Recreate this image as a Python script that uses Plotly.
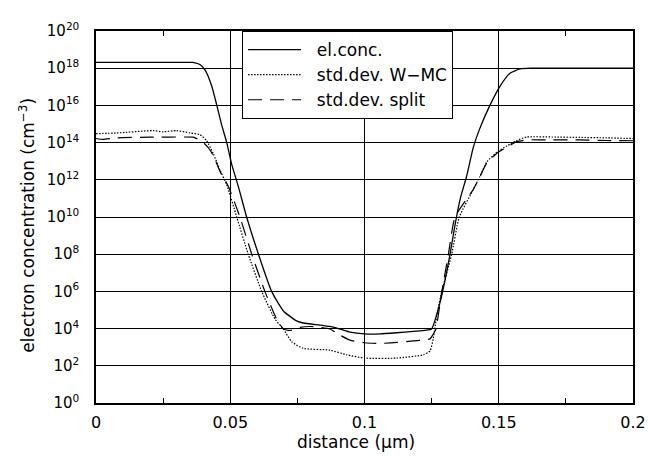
import plotly.graph_objects as go

# ---- data ----
conc_x = [0, 0.02, 0.036, 0.0369, 0.0387, 0.0406, 0.0431, 0.045, 0.0468, 0.0487, 0.0505, 0.053,
          0.0561, 0.0605, 0.0654, 0.0698, 0.0747, 0.0772, 0.0834, 0.0871, 0.0909, 0.0946, 0.1,
          0.1058, 0.112, 0.1182, 0.1244, 0.125, 0.1281, 0.13, 0.1318, 0.1337, 0.1356, 0.138,
          0.1405, 0.143, 0.1467, 0.1505, 0.1542, 0.1579, 0.162, 0.18, 0.2]
conc_y = [2.04e18, 2.04e18, 2.04e18, 1.95e18, 1.58e18, 8.1e17, 1.1e17, 1e16, 8.9e14, 1e14, 7.2e12, 4.4e11,
          1e10, 1e8, 1e6, 8.9e4, 2.6e4, 2.0e4, 1.55e4, 1.3e4, 9.5e3, 6.5e3, 5.2e3,
          5.2e3, 6.0e3, 7.1e3, 8.9e3, 9.5e3, 2.4e5, 4.0e6, 8.9e7, 3.6e9, 8.9e10, 1.5e12,
          5.4e13, 6.0e14, 1e16, 1.1e17, 5.4e17, 9.1e17, 1e18, 1e18, 1e18]

wmc_x = [0, 0.0077, 0.0213, 0.025, 0.030, 0.035, 0.0387, 0.0412, 0.0437, 0.0462, 0.0487, 0.0524,
         0.0567, 0.0617, 0.0667, 0.0698, 0.0729, 0.0772, 0.0871, 0.0934, 0.1, 0.112, 0.1219,
         0.1244, 0.1256, 0.1269, 0.1287, 0.1324, 0.1353, 0.1405, 0.143, 0.1455, 0.1492, 0.153,
         0.1567, 0.1604, 0.17, 0.18, 0.19, 0.2]
wmc_y = [3.0e14, 3.3e14, 4.4e14, 3.8e14, 4.4e14, 3.3e14, 2.7e14, 1.26e14, 2.5e13, 3.3e12, 5.4e11, 1e10,
         1e8, 1e6, 3.2e4, 9.5e3, 1.95e3, 870, 690, 390, 260, 260, 390,
         630, 2.9e3, 4.8e4, 8.9e5, 8.9e7, 1e10, 3.0e11, 1.5e12, 8.9e12, 3.0e13, 6.6e13,
         1.3e14, 2.0e14, 2.0e14, 1.9e14, 1.8e14, 1.66e14]

split_x = [0, 0.0025, 0.0077, 0.02, 0.0362, 0.0369, 0.0394, 0.0418, 0.0437, 0.0462, 0.0493, 0.0536,
           0.058, 0.0629, 0.0673, 0.0698, 0.0722, 0.076, 0.0797, 0.0834, 0.0871, 0.0909, 0.0946,
           0.1, 0.1058, 0.112, 0.1182, 0.1244, 0.1256, 0.1266, 0.1287, 0.1312, 0.1337, 0.1405,
           0.143, 0.1455, 0.1492, 0.153, 0.1567, 0.1604, 0.17, 0.18, 0.19, 0.2]
split_y = [1.66e14, 1.48e14, 1.8e14, 1.95e14, 1.95e14, 1.8e14, 1.2e14, 5.4e13, 2.0e13, 2.8e12, 4.4e11, 1e10,
           1e8, 1e6, 3.2e4, 9.5e3, 7.9e3, 1.17e4, 1.3e4, 1.17e4, 9.5e3, 4.4e3, 2.4e3,
           1.74e3, 1.6e3, 1.8e3, 2.2e3, 2.8e3, 5.0e3, 9.5e3, 7.9e5, 8.9e7, 1e10, 3.0e11,
           1.5e12, 7.9e12, 2.6e13, 5.6e13, 1.12e14, 1.4e14, 1.4e14, 1.4e14, 1.3e14, 1.26e14]

names = ["el.conc.", "std.dev. W\u2212MC", "std.dev. split"]
y_exps = list(range(0, 21, 2))
y_tickvals = [10.0 ** e for e in y_exps]
y_ticktext = ["10<sup>%d</sup>" % e for e in y_exps]
x_tickvals = [0, 0.05, 0.1, 0.15, 0.2]
x_ticktext = ["0", "0.05", "0.1", "0.15", "0.2"]
x_minor = [0.025, 0.075, 0.125, 0.175]
x_title = "distance (\u03bcm)"
y_title = "electron concentration (cm<sup>\u22123</sup>)"

FONT = "DejaVu Sans"
PAD = "\u00a0\u00a0"

fig = go.Figure()
fig.add_trace(go.Scatter(x=conc_x, y=conc_y, name=PAD + names[0], mode="lines",
                         line=dict(color="black", width=1.3, shape="spline", smoothing=0.5)))
fig.add_trace(go.Scatter(x=wmc_x, y=wmc_y, name=PAD + names[1], mode="lines",
                         line=dict(color="black", width=1.2, dash="1.5px,1.5px", shape="spline", smoothing=0.5)))
fig.add_trace(go.Scatter(x=split_x, y=split_y, name=PAD + names[2], mode="lines",
                         line=dict(color="black", width=1.2, dash="14px,8px", shape="spline", smoothing=0.5)))

# page body has an 8px margin: figure sized so it ends exactly at the window edge
fig.update_layout(
    width=653, height=448,
    margin=dict(l=88, r=28, t=12, b=53),
    paper_bgcolor="white", plot_bgcolor="white",
    font=dict(family=FONT, size=16, color="black"),
    showlegend=True,
    legend=dict(x=0.272, y=1.0, xanchor="left", yanchor="top",
                bgcolor="white", bordercolor="black", borderwidth=1,
                font=dict(family=FONT, size=17), itemwidth=53,
                tracegroupgap=0),
    xaxis=dict(range=[0, 0.2], tickvals=x_tickvals, ticktext=x_ticktext,
               showgrid=True, gridcolor="black", gridwidth=1,
               showline=True, linecolor="black", linewidth=1.5, mirror="allticks",
               ticks="inside", ticklen=5, tickcolor="black",
               minor=dict(tickvals=x_minor, ticks="inside", ticklen=5,
                          tickcolor="black", showgrid=False),
               zeroline=False, ticklabelstandoff=4,
               tickfont=dict(size=16)),
    yaxis=dict(type="log", range=[0, 20], tickvals=y_tickvals, ticktext=y_ticktext,
               showgrid=True, gridcolor="black", gridwidth=1,
               showline=True, linecolor="black", linewidth=1.5, mirror="allticks",
               ticks="inside", ticklen=6, tickcolor="black", zeroline=False,
               ticklabelstandoff=12,
               tickfont=dict(size=15)),
    annotations=[
        dict(text=x_title, xref="paper", yref="paper", x=0.485, y=-0.105,
             xanchor="center", yanchor="middle", showarrow=False, font=dict(size=17)),
        dict(text=y_title, xref="paper", yref="paper", x=-0.1276, y=0.478, textangle=-90,
             xanchor="center", yanchor="middle", showarrow=False, font=dict(size=17)),
    ],
)

fig.write_html("out.html")
